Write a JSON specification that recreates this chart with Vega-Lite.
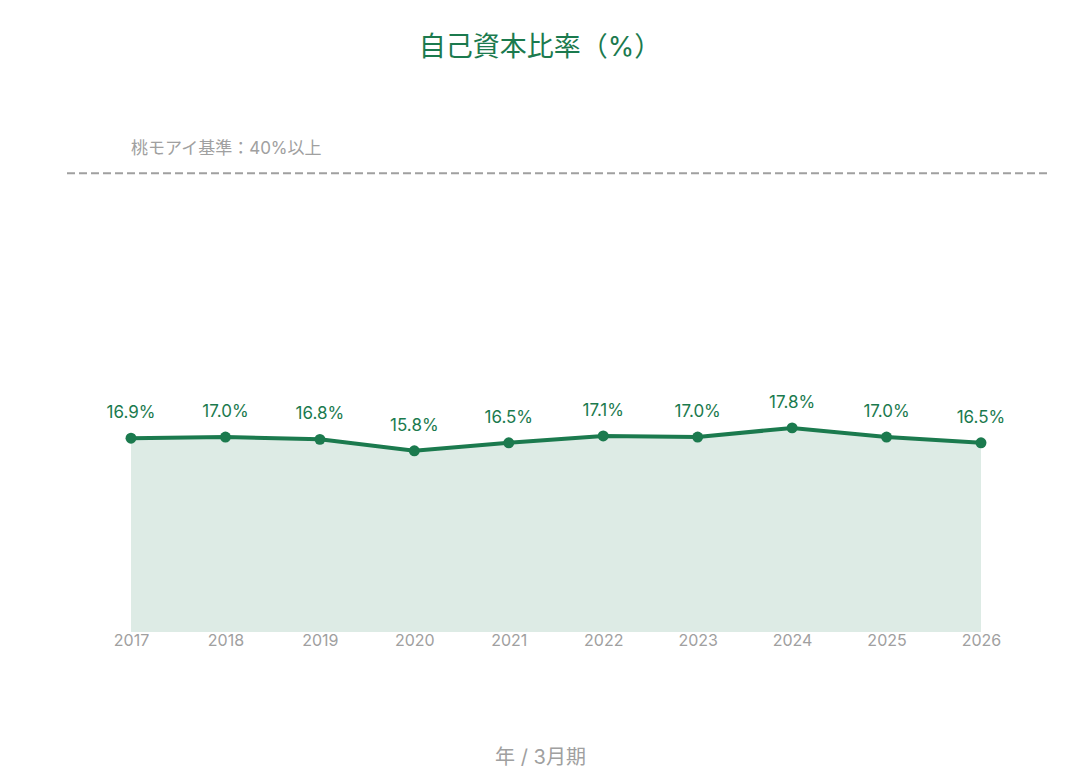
{
  "$schema": "https://vega.github.io/schema/vega-lite/v6.json",
  "autosize": {"type": "none"},
  "padding": {"left": 65, "top": 116, "right": 33, "bottom": 148},
  "width": 982,
  "height": 516,
  "background": "white",
  "config": {
    "font": "Inter, Noto Sans CJK JP",
    "view": {"stroke": null}
  },
  "title": {
    "text": "自己資本比率（%）",
    "font": "Inter, Noto Sans CJK JP",
    "fontSize": 27,
    "fontWeight": "normal",
    "color": "#1b7a4e",
    "anchor": "middle",
    "dx": -16,
    "offset": 54
  },
  "data": {
    "values": [
      {"year": "2017", "ratio": 16.9, "label": "16.9%"},
      {"year": "2018", "ratio": 17.0, "label": "17.0%"},
      {"year": "2019", "ratio": 16.8, "label": "16.8%"},
      {"year": "2020", "ratio": 15.8, "label": "15.8%"},
      {"year": "2021", "ratio": 16.5, "label": "16.5%"},
      {"year": "2022", "ratio": 17.1, "label": "17.1%"},
      {"year": "2023", "ratio": 17.0, "label": "17.0%"},
      {"year": "2024", "ratio": 17.8, "label": "17.8%"},
      {"year": "2025", "ratio": 17.0, "label": "17.0%"},
      {"year": "2026", "ratio": 16.5, "label": "16.5%"}
    ]
  },
  "encoding": {
    "x": {
      "field": "year",
      "type": "ordinal",
      "scale": {"type": "point", "padding": 0.699},
      "axis": {
        "title": "年 / 3月期",
        "titleFontSize": 20,
        "titleFontWeight": "normal",
        "titleColor": "#a0a0a0",
        "titlePadding": 99,
        "titleX": 475,
        "labelAngle": 0,
        "labelFontSize": 16,
        "labelColor": "#a0a0a0",
        "labelPadding": 0,
        "labelBaseline": "top",
        "domain": false,
        "ticks": false,
        "grid": false
      }
    },
    "y": {
      "field": "ratio",
      "type": "quantitative",
      "scale": {"domain": [0, 45], "nice": false, "zero": true},
      "axis": null
    }
  },
  "layer": [
    {
      "mark": {"type": "area", "color": "#1b7a4e", "opacity": 0.15}
    },
    {
      "mark": {"type": "line", "color": "#1b7a4e", "strokeWidth": 4}
    },
    {
      "mark": {"type": "point", "filled": true, "color": "#1b7a4e", "opacity": 1, "size": 120}
    },
    {
      "mark": {"type": "text", "color": "#1b7a4e", "fontSize": 17, "dy": -25, "baseline": "middle"},
      "encoding": {"text": {"field": "label"}}
    },
    {
      "data": {"values": [{"ref": 40, "start": "2017", "note": "桃モアイ基準：40%以上"}]},
      "mark": {"type": "rule", "color": "#a0a0a0", "strokeWidth": 2, "strokeDash": [8, 4]},
      "encoding": {"y": {"field": "ref", "type": "quantitative"}, "x": null}
    },
    {
      "data": {"values": [{"ref": 40, "start": "2017", "note": "桃モアイ基準：40%以上"}]},
      "mark": {"type": "text", "color": "#a0a0a0", "fontSize": 17, "align": "left", "baseline": "middle", "dy": -24},
      "encoding": {
        "y": {"field": "ref", "type": "quantitative"},
        "x": {"field": "start", "type": "ordinal"},
        "text": {"field": "note"}
      }
    }
  ]
}
